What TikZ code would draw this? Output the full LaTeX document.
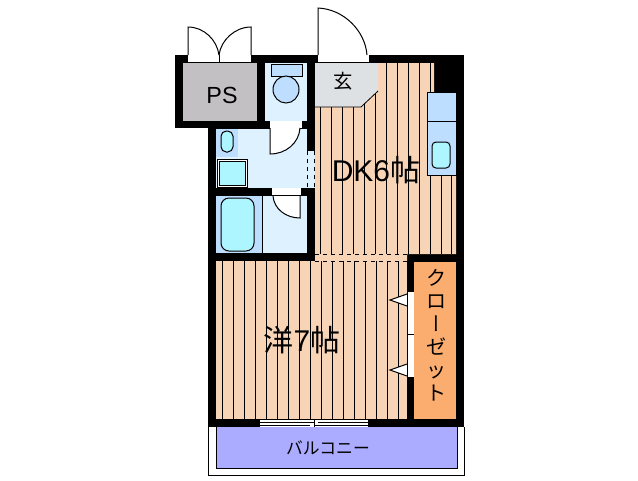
\documentclass[tikz,border=0pt]{standalone}
\usepackage{fontspec}
\setmainfont{Liberation Sans}
\newfontfamily\cjk{Noto Sans CJK JP}
\newfontfamily\cjkv[RawFeature=+vert]{Noto Sans CJK JP}
\definecolor{floorc}{HTML}{F8D4B6}
\definecolor{wetc}{HTML}{DDF1FF}
\definecolor{fixc}{HTML}{BEDEFF}
\definecolor{tubc}{HTML}{ADF5FF}
\definecolor{psc}{HTML}{C2C0C2}
\definecolor{entryc}{HTML}{DDE1E4}
\definecolor{closetc}{HTML}{FBAD6F}
\definecolor{balconyc}{HTML}{ABABFF}
\tikzset{
  wall/.style={fill=black,draw=none},
  area/.style={draw=none},
  fixture/.style={draw=black,line width=0.75pt},
  leaf/.style={draw=black,fill=white,line width=0.75pt},
  opening/.style={fill=white,draw=none},
  hatch/.style={draw=black,line width=0.6pt},
  tag/.style={inner sep=0pt,text=black}
}
\begin{document}
\begin{tikzpicture}[x=0.75pt,y=-0.75pt]
  \useasboundingbox[fill=white] (0,0) rectangle (638,480);
  % balcony
  \draw[fill=white,line width=0.75pt] (208,427) -- (208,475) -- (464,475) -- (464,427);
  \draw[fixture,fill=balconyc] (216,427) -- (216,468) -- (457,468) -- (457,427);
  % walls
  \path[wall] (208,55) rectangle (464,427);
  \path[wall] (175,55) rectangle (215,128);
  % rooms
  \path[area,fill=psc] (183,63) rectangle (257,121);
  \path[area,fill=wetc] (265,63) rectangle (307,121);
  \path[area,fill=wetc] (216,129) rectangle (307,188);
  \path[area,fill=wetc] (307,151) rectangle (315,188);
  \path[area,fill=wetc] (216,196) rectangle (307,253);
  \path[area,fill=floorc] (315,63) -- (434,63) -- (434,92) -- (456,92) -- (456,254)
    -- (407,254) -- (407,261) -- (315,261) -- cycle;
  \path[area,fill=floorc] (216,261) rectangle (407,419);
  \path[area,fill=closetc] (414,262) rectangle (456,419);
  % floor boards
  \foreach \x in {320,331,...,430}
    \draw[hatch] (\x,63) -- (\x,254);
  \foreach \x in {441,451}
    \draw[hatch] (\x,92) -- (\x,254);
  \foreach \x in {222,233,...,398}
    \draw[hatch] (\x,261) -- (\x,419);
  \draw[hatch,dashed] (315,254) -- (407,254);
  \draw[hatch,dashed] (315,261) -- (407,261);
  \draw[hatch,dashed] (307,151) -- (307,188);
  \draw[hatch,dashed] (314,151) -- (314,188);
  % entry
  \path[area,fill=entryc] (315,63) -- (378,63) -- (378,91) -- (361,107) -- (315,107) -- cycle;
  \draw[hatch] (378,91) -- (361,107) -- (315,107);
  % kitchen
  \draw[fixture,fill=fixc] (427,92) rectangle (456,175);
  \draw[fixture] (427,121) -- (456,121);
  \draw[fixture,fill=tubc,rounded corners=3pt] (432,142) rectangle (450,168);
  % toilet
  \draw[fixture,fill=fixc] (271,64) rectangle (302,76);
  \draw[fixture,fill=fixc] (286,89.5) ellipse [x radius=13,y radius=13.5];
  % wash room
  \path[area,fill=fixc] (216,129) rectangle (238,157);
  \draw[fixture,fill=tubc,rounded corners=4pt] (221,131) rectangle (233,152);
  \draw[draw=black,line width=0.5pt,fill=white] (217,159) rectangle (247,187);
  \draw[fixture,fill=tubc] (219,161) rectangle (245,185);
  % bath
  \path[area,fill=fixc] (216,196) rectangle (262,253);
  \draw[fixture] (262,196) -- (262,253);
  \draw[fixture,fill=tubc,rounded corners=6pt] (221,198) rectangle (254,251);
  % openings
  \path[opening] (188,55) rectangle (251,62);
  \path[opening] (318,55) rectangle (369,62);
  \path[opening] (270,121) rectangle (302,128);
  \path[opening] (272,188) rectangle (301,195);
  \path[opening] (407,292) rectangle (414,377);
  \path[opening] (260,420) rectangle (368,427);
  \draw[hatch] (219,55) -- (219,62);
  \draw[hatch] (407,334) -- (414,334);
  \draw[hatch] (260,422) -- (314,422) (314,425) -- (368,425);
  \draw[hatch] (260,425) -- (310,425) (318,422) -- (368,422);
  \draw[hatch] (314,420) -- (314,427);
  % doors
  \draw[leaf,fill=none] (188,55) -- (188,27) .. controls (204,27) and (217,40) .. (219,55);
  \draw[leaf,fill=none] (251,55) -- (251,27) .. controls (235,27) and (221,40) .. (219,55);
  \draw[leaf,fill=none] (318,55) -- (318,8) .. controls (343,9) and (365,30) .. (367,55);
  \draw[leaf] (270,128) -- (270,154) .. controls (286,154) and (299,143) .. (300,128);
  \draw[leaf] (300,196) -- (300,218) .. controls (286,218) and (274,209) .. (273,196);
  \draw[leaf] (407,294) -- (390,300) -- (407,306);
  \draw[leaf] (407,364) -- (390,370) -- (407,376);
  \draw[leaf] (407,292) -- (407,377);
  % labels
  \node[tag,font=\fontsize{17.5}{20}\selectfont] (ps) at (222,95) {PS};
  \node[tag,font=\cjk\fontsize{14.5}{16}\selectfont] (entry) at (343,81) {玄};
  \node[tag,font=\fontsize{22.5}{24}\selectfont] (dk) at (376,170) {DK6{\cjk 帖}};
  \node[tag,font=\fontsize{22.5}{24}\selectfont] (room) at (302,340) {{\cjk 洋}7{\cjk 帖}};
  \node[tag,font=\cjk\fontsize{15}{17.25}\selectfont,align=center] (closet) at (436,335)
    {ク\\ロ\\{\cjkv ー}\\ゼ\\ッ\\ト};
  \node[tag,font=\cjk\fontsize{12.6}{14}\selectfont] (balcony) at (328,448) {バルコニー};
\end{tikzpicture}
\end{document}
